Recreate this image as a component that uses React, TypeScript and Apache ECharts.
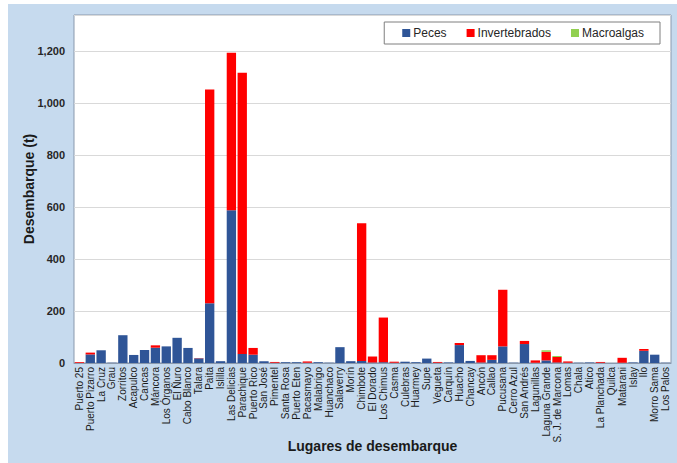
import React, { useEffect, useRef } from "react";
import * as echarts from "echarts";

const categories = [
  "Puerto 25", "Puerto Pizarro", "La Cruz", "Grau", "Zorritos", "Acapulco", "Cancas", "Máncora",
  "Los Órganos", "El Ñuro", "Cabo Blanco", "Talara", "Paita", "Islilla", "Las Delicias", "Parachique",
  "Puerto Rico", "San José", "Pimentel", "Santa Rosa", "Puerto Eten", "Pacasmayo", "Malabrigo",
  "Huanchaco", "Salaverry", "Morín", "Chimbote", "El Dorado", "Los Chimus", "Casma", "Culebras",
  "Huarmey", "Supe", "Vegueta", "Carquín", "Huacho", "Chancay", "Ancón", "Callao", "Pucusana",
  "Cerro Azul", "San Andrés", "Lagunillas", "Laguna Grande", "S. J. de Marcona", "Lomas", "Chala",
  "Atico", "La Planchada", "Quilca", "Matarani", "Islay", "Ilo", "Morro Sama", "Los Palos",
];

const peces = [
  0, 33, 49, 1, 107, 31, 50, 59, 64, 97, 58, 18, 230, 7, 588, 35, 32, 7, 1, 3, 3, 1, 3, 1, 61, 7,
  8, 2, 3, 1, 5, 3, 17, 1, 2, 69, 8, 2, 12, 64, 1, 73, 1, 10, 2, 1, 1, 2, 1, 0, 1, 2, 47, 32, 1,
];

const invertebrados = [
  3, 7, 0, 0, 0, 0, 0, 9, 0, 0, 0, 1, 823, 0, 607, 1083, 26, 0, 3, 0, 0, 5, 0, 0, 0, 0, 530, 23,
  172, 4, 0, 0, 0, 3, 0, 8, 0, 28, 18, 218, 0, 12, 9, 33, 21, 5, 0, 0, 3, 0, 19, 0, 7, 0, 0,
];

const macroalgas = [
  0, 0, 0, 0, 0, 0, 0, 0, 0, 0, 0, 0, 0, 0, 0, 0, 0, 0, 0, 0, 0, 0, 0, 0, 0, 0, 0, 0, 0, 0, 0, 0,
  0, 0, 0, 0, 0, 0, 0, 0, 0, 0, 0, 6, 4, 0, 0, 0, 0, 0, 0, 0, 0, 0, 0,
];

const yTicks = [0, 200, 400, 600, 800, 1000, 1200];

const FONT = "'Liberation Sans', Arial, sans-serif";

export default function App() {
  const ref = useRef<HTMLDivElement>(null);

  useEffect(() => {
    if (!ref.current) return;
    const chart = echarts.init(ref.current, null, { renderer: "svg" });
    const seriesDefs = [
      { name: "Peces", data: peces, color: "#2f5597" },
      { name: "Invertebrados", data: invertebrados, color: "#ff0000" },
      { name: "Macroalgas", data: macroalgas, color: "#92d050" },
    ];
    chart.setOption({
      animation: false,
      backgroundColor: "#c6daee",
      textStyle: { fontFamily: FONT },
      grid: {
        left: 66,
        right: 6,
        top: 11,
        bottom: 100,
        show: true,
        backgroundColor: "#ffffff",
        borderColor: "#8a99ad",
        borderWidth: 1,
      },
      legend: {
        data: ["Peces", "Invertebrados", "Macroalgas"],
        right: 17,
        top: 18,
        backgroundColor: "#ffffff",
        borderColor: "#7f7f7f",
        borderWidth: 1,
        padding: [5, 16, 5, 18],
        itemGap: 20,
        itemWidth: 8,
        itemHeight: 8,
        icon: "rect",
        textStyle: { fontFamily: FONT, fontSize: 12, color: "#262626", padding: [0, 0, 0, -2] },
      },
      xAxis: {
        type: "category",
        data: categories,
        name: "Lugares de desembarque",
        nameLocation: "middle",
        nameGap: 76,
        nameMoveOverlap: false,
        nameTextStyle: { fontFamily: FONT, fontSize: 14, fontWeight: "bold", color: "#1a1a1a" },
        axisLine: { show: true, lineStyle: { color: "#8a99ad" } },
        axisTick: { show: false },
        axisLabel: {
          interval: 0,
          rotate: 90,
          fontFamily: FONT,
          fontSize: 10,
          color: "#1a1a1a",
          margin: 4,
        },
      },
      yAxis: {
        type: "value",
        min: 0,
        max: 1340,
        interval: 200,
        name: "Desembarque (t)",
        nameLocation: "middle",
        nameGap: 38,
        nameMoveOverlap: false,
        nameTextStyle: { fontFamily: FONT, fontSize: 14, fontWeight: "bold", color: "#1a1a1a" },
        axisLine: { show: false },
        axisTick: { show: false },
        splitLine: { lineStyle: { color: "#d9d9d9", width: 1 } },
        axisLabel: {
          fontFamily: FONT,
          fontSize: 11,
          fontWeight: "bold",
          color: "#262626",
          margin: 9,
          showMaxLabel: false,
          formatter: (v: number) =>
            yTicks.includes(v) ? v.toLocaleString("en-US") : "",
        },
      },
      series: seriesDefs.map((s) => ({
        name: s.name,
        type: "bar",
        stack: "total",
        data: s.data,
        barCategoryGap: "14%",
        itemStyle: { color: s.color },
      })),
    });
    return () => chart.dispose();
  }, []);

  return (
    <div
      ref={ref}
      style={{ position: "absolute", left: 8, top: 4, width: 669, height: 459 }}
    />
  );
}
